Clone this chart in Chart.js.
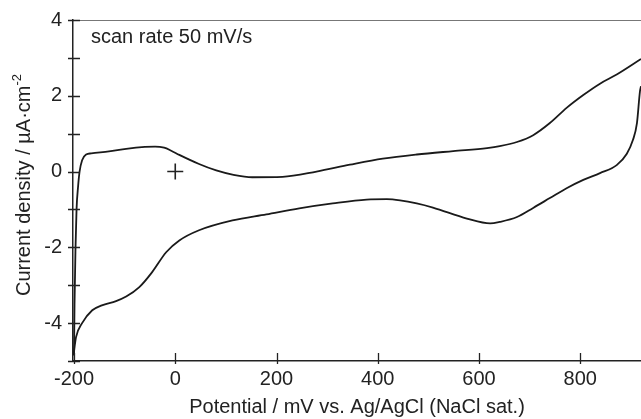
<!DOCTYPE html>
<html>
<head>
<meta charset="utf-8">
<script src="https://cdn.jsdelivr.net/npm/chart.js@4/dist/chart.umd.min.js"></script>
<style>
  html, body { margin: 0; padding: 0; background: #fff; overflow: hidden; }
  #wrap { width: 641px; height: 419px; }
</style>
</head>
<body>
<div id="wrap"><canvas id="cv"></canvas></div>
<script>
// forward scan (lower-left start, upper branch)
const fwdPotential = [-200, -199, -197, -195, -192, -189, -184, -176, -166, -131, -97, -60, -40, -22, -8, 8, 47, 81, 113, 152, 212, 279, 345, 410, 477, 549, 616, 641, 675, 707, 740, 773, 806, 839, 872, 920];
const fwdCurrent   = [-4.85, -3.5, -2.0, -1.0, -0.4, 0.0, 0.3, 0.45, 0.48, 0.53, 0.6, 0.65, 0.66, 0.63, 0.55, 0.44, 0.2, 0.03, -0.08, -0.15, -0.14, 0.0, 0.18, 0.34, 0.45, 0.54, 0.62, 0.67, 0.78, 0.96, 1.28, 1.68, 2.02, 2.32, 2.56, 2.97];
// reverse scan (lower branch)
const revPotential = [920, 918, 912, 904, 892, 872, 839, 806, 773, 740, 707, 675, 641, 622, 576, 509, 477, 444, 418, 378, 311, 245, 180, 113, 47, 8, -18, -46, -71, -97, -117, -145, -164, -184, -196, -201];
const revCurrent   = [2.25, 2.12, 1.28, 0.83, 0.47, 0.17, -0.04, -0.22, -0.44, -0.7, -0.96, -1.2, -1.33, -1.37, -1.24, -0.95, -0.84, -0.76, -0.73, -0.74, -0.84, -0.97, -1.13, -1.29, -1.55, -1.82, -2.13, -2.66, -3.05, -3.3, -3.42, -3.53, -3.66, -4.0, -4.37, -4.85];
const markerPoint = [{ x: 0, y: 0 }];
const xTicks = [-200, 0, 200, 400, 600, 800];
const yLabels = [-4, -2, 0, 2, 4];

const toXY = (xs, ys) => xs.map((x, i) => ({ x, y: ys[i] }));
const FONT = 'Liberation Sans, Arial, sans-serif';
const INK = '#222';

// tick marks crossing the axes, caption and y title with superscript
const decorPlugin = {
  id: 'decor',
  afterDraw(chart) {
    const { ctx, chartArea: a, scales } = chart;
    ctx.save();
    ctx.strokeStyle = '#777';
    ctx.lineWidth = 1;
    ctx.beginPath();
    ctx.moveTo(a.left, a.top + 0.5);
    ctx.lineTo(chart.width, a.top + 0.5);
    ctx.stroke();

    ctx.strokeStyle = INK;
    ctx.lineWidth = 1.3;
    ctx.beginPath();
    scales.x.ticks.forEach(t => {
      const px = Math.round(scales.x.getPixelForValue(t.value)) + 0.5;
      ctx.moveTo(px, a.bottom + 3);
      ctx.lineTo(px, a.bottom - 8);
    });
    scales.y.ticks.forEach(t => {
      const py = Math.round(scales.y.getPixelForValue(t.value)) + 0.5;
      ctx.moveTo(a.left - 5, py);
      ctx.lineTo(a.left + 7, py);
    });
    ctx.stroke();

    ctx.fillStyle = INK;
    ctx.font = '20px ' + FONT;
    ctx.textBaseline = 'middle';
    ctx.fillText('scan rate 50 mV/s', a.left + 18, a.top + 17);

    // y axis title
    const main = 'Current density / \u00b5A\u00b7cm';
    ctx.translate(24, 185);
    ctx.rotate(-Math.PI / 2);
    const w1 = ctx.measureText(main).width;
    ctx.font = '13px ' + FONT;
    const w2 = ctx.measureText('-2').width;
    ctx.font = '20px ' + FONT;
    const x0 = -(w1 + w2) / 2;
    ctx.fillText(main, x0, 0);
    ctx.font = '13px ' + FONT;
    ctx.fillText('-2', x0 + w1, -7);
    ctx.restore();
  }
};

const lineStyle = {
  showLine: true,
  borderColor: '#1a1a1a',
  borderWidth: 1.8,
  pointRadius: 0,
  cubicInterpolationMode: 'monotone',
  fill: false
};

new Chart(document.getElementById('cv'), {
  type: 'scatter',
  data: {
    datasets: [
      { label: 'forward', data: toXY(fwdPotential, fwdCurrent), ...lineStyle },
      { label: 'reverse', data: toXY(revPotential, revCurrent), ...lineStyle },
      {
        label: 'origin', data: markerPoint, showLine: false,
        pointStyle: 'cross', pointRadius: 8, borderColor: INK, borderWidth: 1.6
      }
    ]
  },
  options: {
    responsive: true,
    maintainAspectRatio: false,
    animation: false,
    layout: { autoPadding: false, padding: { top: 20, right: 0, left: 0, bottom: 0 } },
    plugins: { legend: { display: false }, tooltip: { enabled: false } },
    scales: {
      x: {
        type: 'linear',
        min: -202,
        max: 920,
        afterFit: s => { s.height = 58; s.paddingLeft = 0; s.paddingRight = 0; },
        afterBuildTicks: s => { s.ticks = xTicks.map(v => ({ value: v })); },
        ticks: { includeBounds: false, padding: 6, color: INK, font: { family: FONT, size: 20 } },
        grid: { display: true, drawOnChartArea: false, drawTicks: false },
        border: { color: INK, width: 1.5 },
        title: {
          display: true,
          text: 'Potential / mV vs. Ag/AgCl (NaCl sat.)',
          color: INK,
          font: { family: FONT, size: 20 },
          padding: { top: 0, bottom: 0 }
        }
      },
      y: {
        type: 'linear',
        min: -5,
        max: 4,
        afterFit: s => { s.width = 73; s.paddingTop = 0; s.paddingBottom = 0; },
        ticks: {
          stepSize: 1,
          padding: 11,
          color: INK,
          font: { family: FONT, size: 20 },
          callback: v => (yLabels.includes(v) ? v : '')
        },
        grid: { display: true, drawOnChartArea: false, drawTicks: false },
        border: { color: INK, width: 1.5 }
      }
    }
  },
  plugins: [decorPlugin]
});
</script>
</body>
</html>
